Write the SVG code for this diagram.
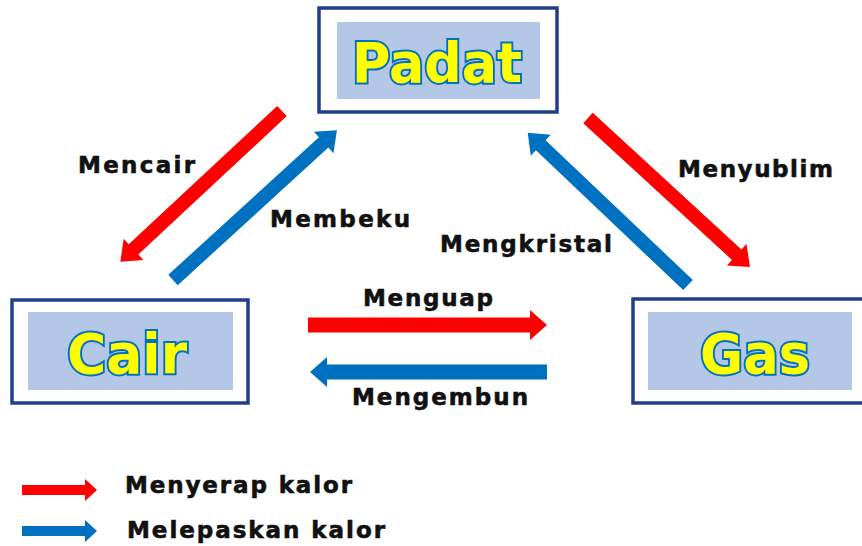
<svg xmlns="http://www.w3.org/2000/svg" width="862" height="546" viewBox="0 0 862 546">
<style>
.frame{fill:#fff;stroke:#203F8A;stroke-width:3.5}
.inner{fill:#B4C7E7}
.state{font-family:"DejaVu Sans",Verdana,sans-serif;font-weight:bold;font-size:56px;fill:#FFFF00;stroke:#0070C0;stroke-width:4;paint-order:stroke;text-anchor:middle}
.lbl{font-family:"DejaVu Sans",Verdana,sans-serif;font-weight:bold;font-size:23px;fill:#111;stroke:#111;stroke-width:0.6}
.red{fill:#FF0000}
.blue{fill:#0070C0}
</style>
<rect width="862" height="546" fill="#fff"/>
<g id="padat">
<rect class="frame" x="319" y="8" width="238" height="104"/>
<rect class="inner" x="337" y="22" width="203" height="77"/>
<text class="state" x="437" y="82" textLength="170" lengthAdjust="spacingAndGlyphs">Padat</text>
</g>
<g id="cair">
<rect class="frame" x="12" y="300" width="236" height="103"/>
<rect class="inner" x="28" y="312" width="205" height="78"/>
<text class="state" x="127" y="373" textLength="120" lengthAdjust="spacingAndGlyphs">Cair</text>
</g>
<g id="gas">
<rect class="frame" x="633" y="299" width="240" height="104"/>
<rect class="inner" x="648" y="312" width="204" height="78"/>
<text class="state" x="755" y="373" textLength="110" lengthAdjust="spacingAndGlyphs">Gas</text>
</g>
<g id="connectors">
<path class="red" transform="translate(282,111) rotate(137)" d="M0,-7 H203 V-14.5 L221,0 L203,14.5 V7 H0 Z"/>
<path class="blue" transform="translate(173,280) rotate(-42.4)" d="M0,-7 H204 V-14.5 L222,0 L204,14.5 V7 H0 Z"/>
<path class="red" transform="translate(588,118) rotate(42.6)" d="M0,-7 H202 V-14.5 L220,0 L202,14.5 V7 H0 Z"/>
<path class="blue" transform="translate(688,285) rotate(-136.5)" d="M0,-7 H203 V-14.5 L221,0 L203,14.5 V7 H0 Z"/>
<path class="red" transform="translate(308,325)" d="M0,-7.5 H222 V-15 L239,0 L222,15 V7.5 H0 Z"/>
<path class="blue" transform="translate(547,372) rotate(180)" d="M0,-7.5 H220 V-15 L237,0 L220,15 V7.5 H0 Z"/>
</g>
<g id="labels">
<text class="lbl" x="78" y="173" textLength="117">Mencair</text>
<text class="lbl" x="270" y="227" textLength="140">Membeku</text>
<text class="lbl" x="678" y="177" textLength="155">Menyublim</text>
<text class="lbl" x="440" y="252" textLength="172">Mengkristal</text>
<text class="lbl" x="363" y="306" textLength="130">Menguap</text>
<text class="lbl" x="352" y="405" textLength="176">Mengembun</text>
</g>
<g id="legend">
<path class="red" transform="translate(22,490)" d="M0,-5 H63 V-11 L75,0 L63,11 V5 H0 Z"/>
<path class="blue" transform="translate(22,531)" d="M0,-5 H63 V-11 L75,0 L63,11 V5 H0 Z"/>
<text class="lbl" x="125" y="493" textLength="227">Menyerap kalor</text>
<text class="lbl" x="127" y="538" textLength="258">Melepaskan kalor</text>
</g>
</svg>
